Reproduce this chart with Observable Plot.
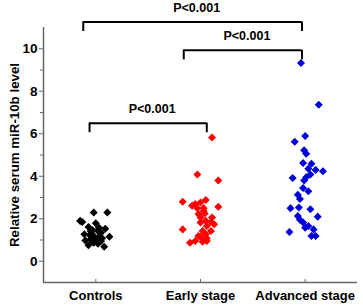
<!DOCTYPE html>
<html>
<head>
<meta charset="utf-8">
<script src="https://cdn.jsdelivr.net/npm/d3@7"></script>
<script src="https://cdn.jsdelivr.net/npm/@observablehq/plot@0.6"></script>
<style>
  html, body { margin: 0; padding: 0; background: #fff; }
</style>
</head>
<body>
<div id="chart"></div>
<script>
const categories = ["Controls", "Early stage", "Advanced stage"];
const colors = ["#000000", "#ff0000", "#0000d9"];

// Relative serum miR-10b level
const controlsValues = [2.29, 2.29, 1.90, 1.85, 1.79, 1.61, 1.58, 1.53, 1.46, 1.42, 1.34, 1.27, 1.23, 1.19, 1.15, 1.14, 1.03, 0.98, 0.95, 0.98, 0.87, 0.75, 0.68, 0.82, 1.42, 1.08];
const controlsJitter = [-0.02, 0.11, -0.15, -0.13, 0.00, -0.07, 0.03, 0.09, -0.03, 0.02, 0.05, -0.11, -0.06, -0.02, 0.13, 0.03, -0.05, 0.00, 0.05, -0.10, -0.02, -0.07, 0.08, 0.02, -0.05, 0.06];

const earlyValues = [5.82, 4.08, 3.80, 2.80, 2.88, 2.56, 2.69, 2.77, 2.50, 2.50, 2.22, 2.37, 2.06, 2.06, 1.90, 1.82, 1.74, 1.66, 1.50, 1.42, 1.42, 1.27, 1.19, 1.08, 0.95, 0.92, 0.95, 0.87, 1.14, 1.85, 2.25, 2.61];
const earlyJitter = [0.11, -0.03, 0.17, -0.17, 0.05, 0.17, -0.05, 0.00, -0.03, 0.03, -0.02, 0.03, 0.00, 0.11, 0.05, 0.00, 0.13, 0.06, -0.17, 0.02, 0.10, 0.05, -0.02, 0.06, -0.05, 0.02, 0.06, -0.10, 0.00, 0.10, 0.04, -0.08];

const advancedValues = [9.33, 7.36, 5.89, 5.62, 5.22, 5.06, 4.62, 4.59, 4.35, 4.30, 4.24, 4.08, 3.95, 3.92, 3.80, 3.45, 3.29, 3.13, 2.93, 2.50, 2.53, 2.45, 2.10, 2.13, 1.95, 1.82, 1.66, 1.58, 1.50, 1.38, 1.19, 1.19];
const advancedJitter = [-0.04, 0.13, 0.00, -0.10, -0.01, 0.01, -0.02, 0.06, 0.03, 0.10, 0.17, 0.05, 0.01, -0.12, -0.01, -0.02, 0.03, -0.07, -0.05, -0.14, -0.06, 0.05, 0.12, -0.07, -0.05, -0.02, 0.03, 0.00, 0.08, -0.15, 0.06, 0.10];

const yTicks = [0, 2, 4, 6, 8, 10];
const yMinorTicks = [1, 3, 5, 7, 9];
const yLabel = "Relative serum miR-10b level";

// significance brackets: from/to in category units, height in data units
const brackets = [
  {x1: -0.12, x2: 1.97, y: 11.26, label: "P<0.001"},
  {x1: 0.84, x2: 1.97, y: 9.93, label: "P<0.001"},
  {x1: -0.06, x2: 1.06, y: 6.50, label: "P<0.001"}
];
const legDrop = 0.45;

const groups = [
  [controlsValues, controlsJitter],
  [earlyValues, earlyJitter],
  [advancedValues, advancedJitter]
];
const rows = groups.flatMap(([vals, jit], g) =>
  vals.map((v, i) => ({group: g, category: categories[g], x: g + jit[i], value: v})));

const legs = brackets.flatMap(b => [{x: b.x1, y1: b.y - legDrop, y2: b.y}, {x: b.x2, y1: b.y - legDrop, y2: b.y}]);

const font = "'Liberation Sans', Arial, sans-serif";

const chart = Plot.plot({
  width: 363,
  height: 308,
  marginLeft: 43,
  marginRight: 6,
  marginTop: 27,
  marginBottom: 26,
  style: {fontFamily: font, fontWeight: "bold", background: "#fff", color: "#000"},
  x: {type: "linear", domain: [-0.5, 2.5]},
  y: {domain: [-1, 11]},
  color: {domain: categories, range: colors},
  marks: [
    Plot.axisY({ticks: yTicks, tickSize: 4, tickPadding: 2, fontSize: 13.5, fontWeight: "bold", stroke: "#666", fill: "#000", label: null}),
    Plot.axisY({ticks: yMinorTicks, tickSize: 3, tickFormat: () => "", stroke: "#666", label: null}),
    Plot.axisX({ticks: [0, 1, 2], tickFormat: i => categories[i], tickSize: 0, tickPadding: 8, fontSize: 13, fontWeight: "bold", fill: "#000", label: null}),
    Plot.ruleX([0, 1, 2], {x: d => d, y1: -1, y2: -0.86, stroke: "#666", strokeWidth: 1}),
    Plot.ruleX([-0.5], {y1: -1, y2: 11, stroke: "#666", strokeWidth: 1.5}),
    Plot.ruleY([-1], {x1: -0.5, x2: 2.5, stroke: "#666", strokeWidth: 1.5}),
    Plot.text([yLabel], {frameAnchor: "left", textAnchor: "middle", rotate: -90, dx: -29, fontSize: 13.3, fontWeight: "bold", fill: "#000"}),
    Plot.dot(rows, {x: "x", y: "value", fill: "category", symbol: "square", rotate: 45, r: 3.2}),
    Plot.ruleY(brackets, {x1: "x1", x2: "x2", y: "y", stroke: "#000", strokeWidth: 2}),
    Plot.ruleX(legs, {x: "x", y1: "y1", y2: "y2", stroke: "#000", strokeWidth: 2}),
    Plot.text(brackets, {x: d => (d.x1 + d.x2) / 2, y: "y", text: "label", dy: -14, dx: 4, fontSize: 12.5, fontWeight: "bold", fill: "#000", ariaLabel: "pvalue"})
  ]
});

d3.select(chart).selectAll('g[aria-label="pvalue"] text').each(function () {
  const t = d3.select(this);
  const s = t.text();
  t.text("");
  t.append("tspan").style("font-style", "italic").text(s.slice(0, 1));
  t.append("tspan").text(s.slice(1));
});

document.getElementById("chart").appendChild(chart);
</script>
</body>
</html>
